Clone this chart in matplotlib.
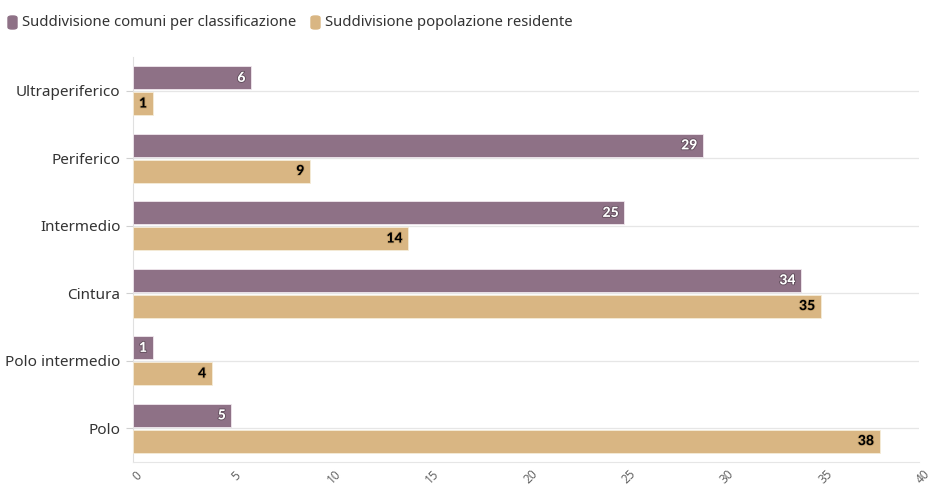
import matplotlib.pyplot as plt
import matplotlib.patheffects as pe
from matplotlib.patches import FancyBboxPatch
import numpy as np

plt.rcParams["font.family"] = ["Noto Sans", "DejaVu Sans"]

categories = ["Ultraperiferico", "Periferico", "Intermedio", "Cintura", "Polo intermedio", "Polo"]
comuni = [6, 29, 25, 34, 1, 5]
popolazione = [1, 9, 14, 35, 4, 38]
series_names = ["Suddivisione comuni per classificazione", "Suddivisione popolazione residente"]

purple = "#8e7186"
tan = "#d9b683"

fig = plt.figure(figsize=(9.29, 4.88), dpi=100)
ax = fig.add_axes([0.1432, 0.0533, 0.846, 0.83])

y = np.arange(len(categories))
h = 0.34
off = 0.19
b1 = ax.barh(y - off, comuni, height=h, color=purple, edgecolor="#f0e8ee", linewidth=0.6, zorder=3)
b2 = ax.barh(y + off, popolazione, height=h, color=tan, edgecolor="#f5ecd9", linewidth=0.6, zorder=3)

# value labels inside the bar end
label_font = dict(family=["Lato", "DejaVu Sans"], fontsize=10, fontweight="black")
for bar, v in zip(b1, comuni):
    ax.annotate(str(v), (bar.get_width(), bar.get_y() + bar.get_height() / 2),
                xytext=(-4, 0), textcoords="offset points", ha="right", va="center",
                color="white", zorder=5, **label_font,
                path_effects=[pe.withStroke(linewidth=1.2, foreground="#5e4a59")])
for bar, v in zip(b2, popolazione):
    ax.annotate(str(v), (bar.get_width(), bar.get_y() + bar.get_height() / 2),
                xytext=(-4, 0), textcoords="offset points", ha="right", va="center",
                color="black", zorder=5, **label_font,
                path_effects=[pe.withStroke(linewidth=1.2, foreground="#c4a06a")])

ax.set_ylim(len(categories) - 0.5, -0.5)
ax.set_xlim(0, 40)
ax.set_yticks(y)
ax.set_yticklabels(categories, fontsize=11, color="#333333")
ax.set_xticks(np.arange(0, 41, 5))
ax.set_xticklabels([str(t) for t in range(0, 41, 5)], rotation=45, ha="center",
                   rotation_mode="anchor", fontsize=8.5, color="#666666")

for yc in y:
    ax.axhline(yc, color="#e6e6e6", linewidth=0.9, zorder=1)

for s in ["top", "right"]:
    ax.spines[s].set_visible(False)
ax.spines["left"].set_color("#e0e0e0")
ax.spines["bottom"].set_color("#e6e6e6")
ax.tick_params(axis="y", length=5, color="#d0d0d0", pad=4)
ax.tick_params(axis="x", length=0, pad=7)

# legend with rounded swatches
for name, col, tx in [(series_names[0], purple, 8), (series_names[1], tan, 311)]:
    fig.patches.append(FancyBboxPatch((tx / 929, 1 - 29 / 488), 9 / 929, 13 / 488,
                                      boxstyle="round,pad=0,rounding_size=0.004",
                                      transform=fig.transFigure, color=col))
    fig.text((tx + 14) / 929, 1 - 22 / 488, name, fontsize=10.7, color="#333333", va="center")

fig.savefig("out.png", dpi=100)
